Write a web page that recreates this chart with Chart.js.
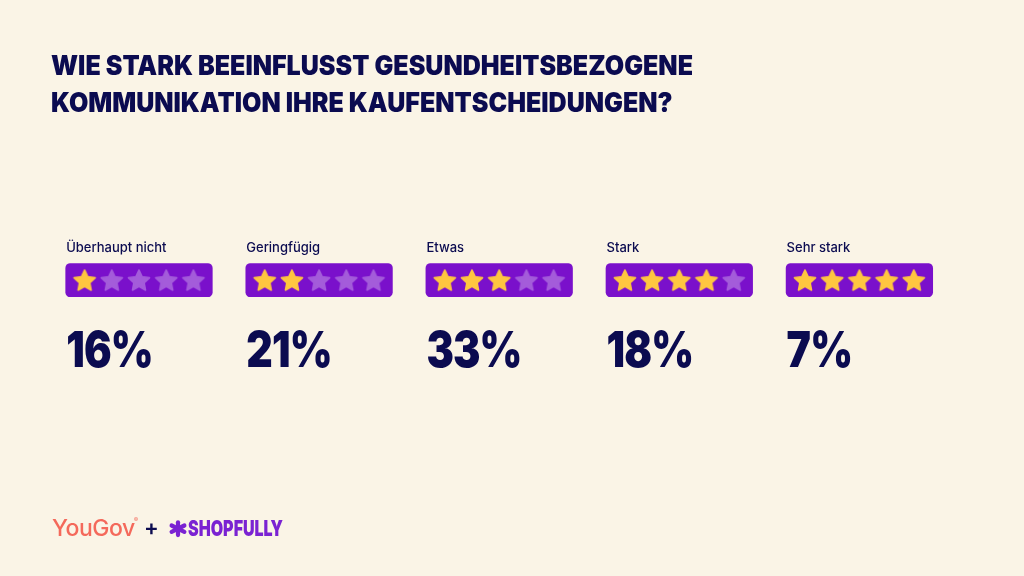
<!DOCTYPE html>
<html><head><meta charset="utf-8">
<script src="https://cdn.jsdelivr.net/npm/chart.js@4.4.1/dist/chart.umd.min.js"></script>
<style>html,body{margin:0;padding:0;background:#FAF4E6;} #wrap{width:1024px;height:576px;position:relative;}</style>
</head><body><div id="wrap"><canvas id="c"></canvas></div>
<script>
// ---- data ----
const categories = ['Überhaupt nicht', 'Geringfügig', 'Etwas', 'Stark', 'Sehr stark'];
const percentages = [16, 21, 33, 18, 7];
const starRatings = [1, 2, 3, 4, 5];
const maxStars = 5;
const titleLines = ['WIE STARK BEEINFLUSST GESUNDHEITSBEZOGENE', 'KOMMUNIKATION IHRE KAUFENTSCHEIDUNGEN?'];

// ---- styles ----
const C = {bg:'#FAF4E6', navy:'#0B0B50', box:'#7A10CB', starOn:'#FFC640', starOff:'#A45CDA', coral:'#F4695B', purple:'#7A22D2'};
const STAR_STEP = 27.2 / 180.1; // star spacing in group units

function starPath(ctx, cx, cy, R, r) {
  ctx.beginPath();
  for (let k = 0; k < 10; k++) {
    const a = -Math.PI / 2 + k * Math.PI / 5;
    const rad = k % 2 === 0 ? R : r;
    ctx.lineTo(cx + rad * Math.cos(a), cy + rad * Math.sin(a));
  }
  ctx.closePath();
}
function makeStar(color) {
  const s = 28, cv = document.createElement('canvas');
  cv.width = s; cv.height = s;
  const x = cv.getContext('2d');
  starPath(x, s / 2, s / 2 + 1, 11.1, 5.4);
  x.fillStyle = color; x.strokeStyle = color; x.lineWidth = 1.6; x.lineJoin = 'round';
  x.fill(); x.stroke();
  return cv;
}

const boxData = categories.map((c, i) => ({x: i, y: [0, 1]}));
const starsOn = [], starsOff = [];
categories.forEach((c, i) => {
  for (let j = 0; j < maxStars; j++) {
    const p = {x: i + (j - (maxStars - 1) / 2) * STAR_STEP, y: 0.5};
    (j < starRatings[i] ? starsOn : starsOff).push(p);
  }
});

function drawScaled(ctx, text, x, y, sx) {
  ctx.save(); ctx.translate(x, y); ctx.scale(sx, 1); ctx.fillText(text, 0, 0); ctx.restore();
}

const deco = {
  id: 'deco',
  beforeDraw(chart) {
    const ctx = chart.ctx; ctx.save(); ctx.fillStyle = C.bg; ctx.fillRect(0, 0, chart.width, chart.height); ctx.restore();
  },
  afterDraw(chart) {
    const ctx = chart.ctx, area = chart.chartArea;
    ctx.save();
    ctx.textBaseline = 'alphabetic'; ctx.textAlign = 'left';
    // title
    ctx.fillStyle = C.navy;
    ctx.font = '900 27px Inter';
    const sx = 642 / ctx.measureText(titleLines[0]).width;
    titleLines.forEach((t, k) => drawScaled(ctx, t, 51, 74.5 + k * 37, sx));
    // category labels and percentages
    const meta = chart.getDatasetMeta(0);
    meta.data.forEach((el, i) => {
      const left = el.x - el.width / 2 + 0.5;
      ctx.fillStyle = C.navy;
      ctx.font = '500 13px Inter';
      ctx.fillText(categories[i], left, area.top - 11.6);
      ctx.font = '900 50px Inter';
      ctx.letterSpacing = '-1px';
      drawScaled(ctx, percentages[i] + '%', left, area.bottom + 70.3, 0.82);
      ctx.letterSpacing = '0px';
    });
    // logos
    ctx.fillStyle = C.coral;
    ctx.font = '500 23px Inter';
    ctx.letterSpacing = '-0.5px';
    ctx.fillText('YouGov', 52, 535.7);
    const yw = ctx.measureText('YouGov').width;
    ctx.letterSpacing = '0px';
    ctx.font = '500 6px Inter';
    ctx.fillText('®', 52 + yw - 0.5, 522);
    ctx.fillStyle = C.navy;
    ctx.font = '600 22px Inter';
    ctx.fillText('+', 144, 535);
    // asterisk
    ctx.strokeStyle = C.purple; ctx.lineWidth = 4.2; ctx.lineCap = 'round';
    const cx = 178, cy = 528.7;
    [90, 30, 150].forEach(a => {
      const r = a * Math.PI / 180, L = 6.4;
      ctx.beginPath();
      ctx.moveTo(cx - L * Math.cos(r) * 1.15, cy - L * Math.sin(r));
      ctx.lineTo(cx + L * Math.cos(r) * 1.15, cy + L * Math.sin(r));
      ctx.stroke();
    });
    ctx.fillStyle = C.purple;
    ctx.font = '900 22px Inter';
    drawScaled(ctx, 'SHOPFULLY', 188, 535.7, 95 / ctx.measureText('SHOPFULLY').width);
    ctx.restore();
  }
};

function build() {
  new Chart(document.getElementById('c'), {
    type: 'bar',
    data: {
      datasets: [
        {type: 'bar', data: boxData, backgroundColor: C.box, borderRadius: 5, borderSkipped: false, barThickness: 146.6, order: 3},
        {type: 'scatter', data: starsOn, pointStyle: makeStar(C.starOn), order: 1, clip: false},
        {type: 'scatter', data: starsOff, pointStyle: makeStar(C.starOff), order: 2, clip: false}
      ]
    },
    options: {
      responsive: true, maintainAspectRatio: false, animation: false,
      layout: {padding: {left: 48.95, right: 74.55, top: 263.3, bottom: 576 - 297}},
      scales: {
        x: {type: 'linear', min: -0.5, max: 4.5, offset: false, display: false},
        y: {type: 'linear', min: 0, max: 1, offset: false, display: false}
      },
      plugins: {legend: {display: false}, tooltip: {enabled: false}}
    },
    plugins: [deco]
  });
}
Promise.all(['500 13px Inter', '900 27px Inter', '900 50px Inter'].map(f => document.fonts.load(f).catch(() => null)))
  .then(build, build);
</script></body></html>
